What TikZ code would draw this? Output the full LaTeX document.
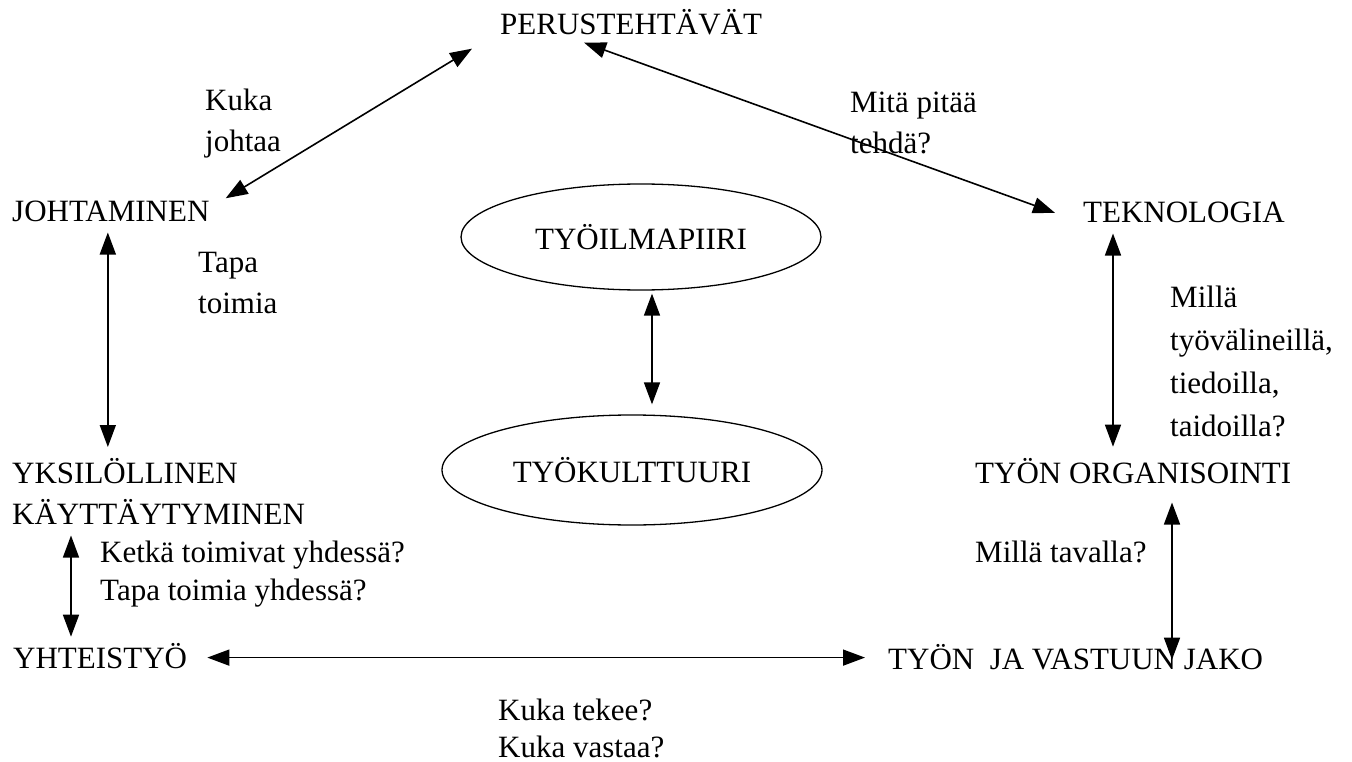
\documentclass[tikz,border=0pt]{standalone}
\usepackage{fontspec}
\setmainfont{Liberation Serif}
\usetikzlibrary{arrows.meta}
\usetikzlibrary{shapes.geometric}

\begin{document}
\begin{tikzpicture}[x=1pt, y=-1pt]
		\tikzstyle{main}=[inner sep=0pt, font=\fontsize{31}{41}\selectfont, align=left]
		\tikzstyle{oval}=[ellipse, draw, line width=1.3pt, inner sep=0pt, font=\fontsize{31}{41}\selectfont]
		\tikzstyle{connect}=[{Triangle[length=22pt,width=16pt]}-{Triangle[length=22pt,width=16pt]}, line width=1.6pt]
		\useasboundingbox (0,0) rectangle (1352,762);
		% main topics
		\node[main, anchor=base west] (perus) at (500,35) {PERUSTEHT\"AV\"AT};
		\node[main, anchor=base west] (johtaminen) at (12,222) {JOHTAMINEN};
		\node[main, anchor=base west] (teknologia) at (1083,223) {TEKNOLOGIA};
		\node[main, anchor=north west] (yksilo) at (12,458) {YKSIL\"OLLINEN\\K\"AYTT\"AYTYMINEN};
		\node[main, anchor=base west] (organisointi) at (975,483) {TY\"ON ORGANISOINTI};
		\node[main, anchor=base west] (yhteistyo) at (13,668) {YHTEISTY\"O};
		\node[main, anchor=base west] (jako) at (888,669) {TY\"ON\ \ JA VASTUUN JAKO};
		% middle
		\node[oval, minimum width=360pt, minimum height=106pt] (ilmapiiri) at (641,237) {TY\"OILMAPIIRI};
		\node[oval, minimum width=380pt, minimum height=110pt] (kulttuuri) at (632,470) {TY\"OKULTTUURI};
		% questions
		\node[main, anchor=north west] (kuka) at (205,89) {Kuka\\johtaa};
		\node[main, anchor=north west] (mita) at (850,92) {Mit\"a pit\"a\"a\\tehd\"a?};
		\node[main, anchor=north west] (tapa) at (198,252) {Tapa\\toimia};
		\node[main, anchor=north west, font=\fontsize{31}{43}\selectfont] (milla) at (1170,286) {Mill\"a\\ty\"ov\"alineill\"a,\\tiedoilla,\\taidoilla?};
		\node[main, anchor=north west, font=\fontsize{31}{38}\selectfont] (ketka) at (100,541) {Ketk\"a toimivat yhdess\"a?\\Tapa toimia yhdess\"a?};
		\node[main, anchor=base west] (tavalla) at (975,562) {Mill\"a tavalla?};
		\node[main, anchor=north west, font=\fontsize{31}{37}\selectfont] (tekee) at (498,699) {Kuka tekee?\\Kuka vastaa?};
		% connectors
		\draw[connect] ([xshift=16pt,yshift=3pt]johtaminen.north east) -- ([xshift=-28pt,yshift=-13pt]perus.south west);
		\draw[connect] ([xshift=-47pt,yshift=-7pt]perus.south) -- ([xshift=-28pt]teknologia.west);
		\draw[connect] ([xshift=-3pt,yshift=-10pt]johtaminen.south) coordinate (j1) -- ([yshift=11pt]j1 |- yksilo.north);
		\draw[connect] ([xshift=30pt,yshift=-10pt]teknologia.south west) coordinate (t1) -- ([yshift=11pt]t1 |- organisointi.north);
		\draw[connect] ([xshift=59pt,yshift=-11pt]yksilo.south west) coordinate (y1) -- ([yshift=6pt]y1 |- yhteistyo.north);
		\draw[connect] ([xshift=197pt,yshift=-19pt]organisointi.south west) coordinate (o1) -- ([yshift=-16pt]o1 |- jako.north);
		\draw[connect] ([xshift=20pt,yshift=-2pt]yhteistyo.east) coordinate (h1) -- ([xshift=-23pt]h1 -| jako.west);
		\draw[connect] ([xshift=11pt,yshift=-3pt]ilmapiiri.south) coordinate (e1) -- ([yshift=10pt]e1 |- kulttuuri.north);
	\end{tikzpicture}
\end{document}
